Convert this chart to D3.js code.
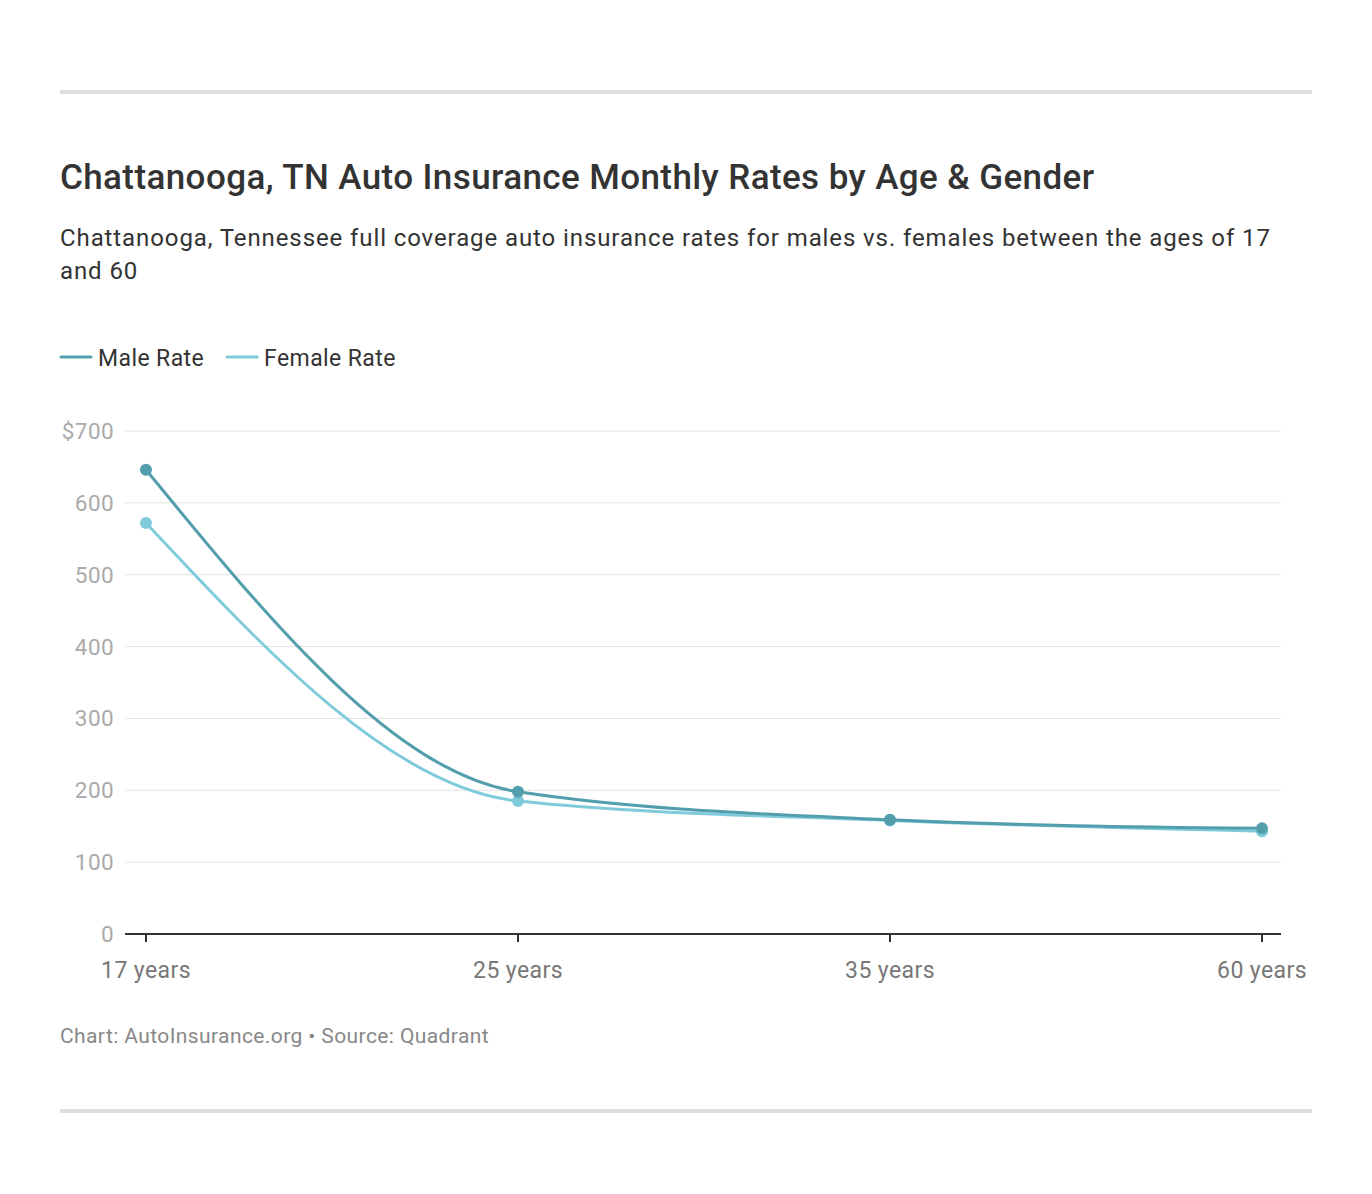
<!DOCTYPE html>
<html><head><meta charset="utf-8">
<script src="https://cdn.jsdelivr.net/npm/d3@7"></script>
<style>
body{margin:0;background:#fff;font-family:Roboto,"Noto Sans",sans-serif;}
</style></head>
<body><svg id="c" width="1372" height="1194"></svg>
<script>
const categories = ["17 years","25 years","35 years","60 years"];
const maleRate = [646, 198, 159, 147];
const femaleRate = [572, 185, 158, 143];
const yTicks = [0,100,200,300,400,500,600,700];
const seriesNames = ["Male Rate","Female Rate"];
const colors = ["#529ead","#80cbdb"];

const svg = d3.select("#c");
svg.append("rect").attr("x",60).attr("y",90).attr("width",1252).attr("height",4).attr("fill","#dedede");
svg.append("rect").attr("x",60).attr("y",1109).attr("width",1252).attr("height",4).attr("fill","#dedede");

svg.append("text").attr("x",60).attr("y",189).attr("font-size",35).attr("font-weight",500).attr("fill","#333")
  .attr("letter-spacing",0.4)
  .text("Chattanooga, TN Auto Insurance Monthly Rates by Age & Gender");
svg.append("text").attr("x",60).attr("y",246).attr("font-size",24).attr("fill","#333").attr("letter-spacing",0.9)
  .text("Chattanooga, Tennessee full coverage auto insurance rates for males vs. females between the ages of 17");
svg.append("text").attr("x",60).attr("y",279).attr("font-size",24).attr("fill","#333").attr("letter-spacing",0.9).text("and 60");

// legend
let lx = 60;
seriesNames.forEach((n,i)=>{
  svg.append("line").attr("x1",lx+1).attr("x2",lx+31).attr("y1",357).attr("y2",357)
    .attr("stroke",colors[i]).attr("stroke-width",3).attr("stroke-linecap","round");
  const t = svg.append("text").attr("x",lx+38).attr("y",366).attr("font-size",23).attr("fill","#333").attr("letter-spacing",0.4).text(n);
  lx += 38 + t.node().getComputedTextLength() + 22;
});

const x = d3.scalePoint().domain(categories).range([146,1262]);
const y = d3.scaleLinear().domain([0,700]).range([934,431]);

const g = svg.append("g");
yTicks.forEach(v=>{
  if(v>0) g.append("line").attr("x1",125).attr("x2",1281).attr("y1",y(v)).attr("y2",y(v)).attr("stroke","#e3e3e3").attr("stroke-width",1);
  g.append("text").attr("x",114).attr("y",y(v)+8).attr("text-anchor","end").attr("font-size",22.5).attr("fill","#aaa").attr("letter-spacing",0.4)
    .text(v===700?"$700":v);
});
g.append("line").attr("x1",125).attr("x2",1281).attr("y1",934).attr("y2",934).attr("stroke","#333").attr("stroke-width",2);
categories.forEach(c=>{
  g.append("line").attr("x1",x(c)).attr("x2",x(c)).attr("y1",934).attr("y2",942).attr("stroke","#333").attr("stroke-width",2);
  g.append("text").attr("x",x(c)).attr("y",978).attr("text-anchor","middle").attr("font-size",23).attr("fill","#777").attr("letter-spacing",0.4).text(c);
});

const line = d3.line().x((d,i)=>x(categories[i])).y(d=>y(d)).curve(d3.curveMonotoneX);
[femaleRate, maleRate].forEach((s,k)=>{
  const col = k===0?colors[1]:colors[0];
  g.append("path").attr("d",line(s)).attr("fill","none").attr("stroke",col).attr("stroke-width",3);
  s.forEach((v,i)=>g.append("circle").attr("cx",x(categories[i])).attr("cy",y(v)).attr("r",6).attr("fill",col));
});

svg.append("text").attr("x",60).attr("y",1043).attr("font-size",21).attr("fill","#888").attr("letter-spacing",0.4)
  .text("Chart: AutoInsurance.org • Source: Quadrant");
</script></body></html>
